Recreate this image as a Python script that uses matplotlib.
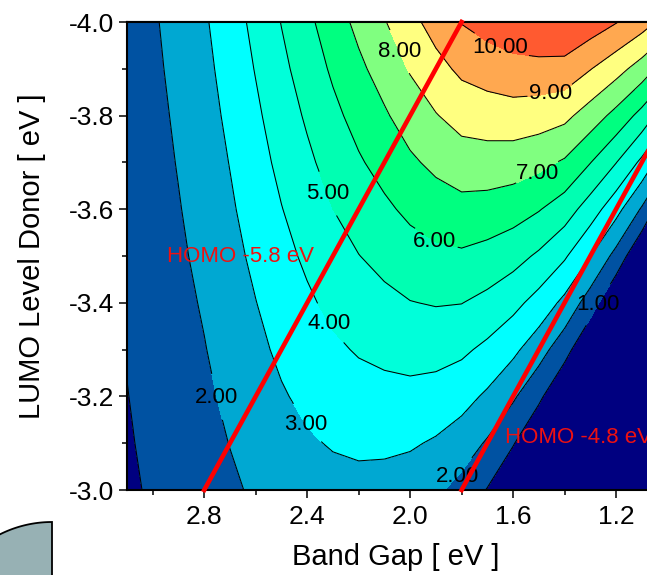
import numpy as np
import matplotlib
matplotlib.use('Agg')
import matplotlib.pyplot as plt
from matplotlib.patches import Polygon
from matplotlib.ticker import MultipleLocator

plt.rcParams['font.family'] = ['Liberation Sans', 'DejaVu Sans']

# ---- data ----
band_gap = [3.1, 3.0, 2.9, 2.8, 2.7, 2.6, 2.5, 2.4, 2.3, 2.2, 2.1,
            2.0, 1.9, 1.8, 1.7, 1.6, 1.5, 1.4, 1.3, 1.2, 1.1, 1.0]
lumo = [-3.0, -3.1, -3.2, -3.3, -3.4, -3.5, -3.6, -3.7, -3.8, -3.9, -4.0]

# efficiency (%) : one row per LUMO value (from -3.0 to -4.0), one column per band gap
eff_m30 = [0.86, 1.10, 1.33, 1.57, 1.85, 2.13, 2.38, 2.56, 2.69, 2.72, 2.65, 2.49, 2.17, 1.67, 0.95, 0.00, 0.00, 0.00, 0.00, 0.00, 0.00, 0.00]
eff_m31 = [0.92, 1.18, 1.44, 1.70, 2.02, 2.34, 2.65, 2.89, 3.07, 3.17, 3.18, 3.11, 2.89, 2.51, 1.89, 1.07, 0.00, 0.00, 0.00, 0.00, 0.00, 0.00]
eff_m32 = [0.98, 1.25, 1.54, 1.83, 2.19, 2.56, 2.91, 3.21, 3.46, 3.63, 3.71, 3.73, 3.62, 3.35, 2.84, 2.14, 1.21, 0.00, 0.00, 0.00, 0.00, 0.00]
eff_m33 = [1.04, 1.33, 1.64, 1.96, 2.36, 2.77, 3.18, 3.53, 3.84, 4.08, 4.23, 4.35, 4.34, 4.18, 3.78, 3.22, 2.42, 1.38, 0.00, 0.00, 0.00, 0.00]
eff_m34 = [1.09, 1.41, 1.74, 2.09, 2.53, 2.98, 3.44, 3.85, 4.23, 4.53, 4.76, 4.97, 5.06, 5.02, 4.73, 4.29, 3.63, 2.75, 1.51, 0.00, 0.00, 0.00]
eff_m35 = [1.15, 1.49, 1.85, 2.23, 2.70, 3.20, 3.71, 4.17, 4.61, 4.98, 5.29, 5.59, 5.78, 5.86, 5.67, 5.36, 4.85, 4.13, 3.02, 1.68, 0.00, 0.00]
eff_m36 = [1.21, 1.57, 1.95, 2.36, 2.87, 3.41, 3.97, 4.49, 5.00, 5.44, 5.82, 6.21, 6.51, 6.69, 6.62, 6.43, 6.06, 5.50, 4.52, 3.35, 1.89, 0.00]
eff_m37 = [1.27, 1.65, 2.05, 2.49, 3.03, 3.62, 4.24, 4.81, 5.38, 5.89, 6.35, 6.84, 7.23, 7.53, 7.56, 7.50, 7.27, 6.88, 6.03, 5.03, 3.78, 2.15]
eff_m38 = [1.33, 1.72, 2.15, 2.62, 3.20, 3.83, 4.50, 5.13, 5.76, 6.34, 6.88, 7.46, 7.95, 8.37, 8.51, 8.58, 8.48, 8.25, 7.54, 6.70, 5.67, 4.30]
eff_m39 = [1.38, 1.80, 2.26, 2.75, 3.37, 4.05, 4.77, 5.45, 6.15, 6.80, 7.41, 8.08, 8.68, 9.20, 9.45, 9.65, 9.69, 9.63, 9.04, 8.38, 7.56, 6.45]
eff_m40 = [1.44, 1.88, 2.36, 2.88, 3.54, 4.26, 5.03, 5.77, 6.53, 7.25, 7.94, 8.70, 9.40, 10.04, 10.40, 10.72, 10.90, 11.00, 10.55, 10.05, 9.45, 8.60]

fill_levels = [0, 1, 2, 3, 4, 5, 6, 7, 8, 9, 10, 12]
line_levels = [1, 2, 3, 4, 5, 6, 7, 8, 9, 10]
fill_colors = ['#000080', '#0052A2', '#00A8D2', '#00FFFF', '#00FFDA', '#00FFB2',
               '#00FF80', '#80FF80', '#FFFF80', '#FFA850', '#FF5A30']

homo_values = [-5.8, -4.8]
homo_labels = ['HOMO -5.8 eV', 'HOMO -4.8 eV']

# ---- figure ----
W, H = 647, 575
fig = plt.figure(figsize=(W / 100, H / 100), dpi=100)
ax = fig.add_axes([127 / W, (H - 490) / H, 540.5 / W, 468 / H])

Z = np.array([eff_m30, eff_m31, eff_m32, eff_m33, eff_m34, eff_m35,
              eff_m36, eff_m37, eff_m38, eff_m39, eff_m40])
X, Y = np.meshgrid(band_gap, lumo)

ax.contourf(X, Y, Z, levels=fill_levels, colors=fill_colors)
cs = ax.contour(X, Y, Z, levels=line_levels, colors='k', linewidths=0.75)

label_pos = [(2.75, -3.199), (2.412, -3.139), (2.272, -3.368), (2.311, -3.635),
             (1.903, -3.532), (1.515, -3.690), (2.027, -3.940), (1.460, -3.865),
             (1.639, -3.957), (1.289, -3.402), (1.864, -3.053)]
texts = ax.clabel(cs, fmt='%.2f', fontsize=16, inline=True, inline_spacing=2,
                  manual=label_pos)
for t in texts:
    t.set_rotation(0)

for hv, lab in zip(homo_values, homo_labels):
    ls = np.array([lumo[0], lumo[-1]])
    ax.plot(ls - hv, ls, color='#FF0000', lw=3.3, solid_capstyle='projecting',
            clip_on=False, zorder=5)

ax.text(2.944, -3.498, homo_labels[0], color='#EE1111', fontsize=16,
        ha='left', va='center', zorder=6)
ax.text(1.631, -3.113, homo_labels[1], color='#EE1111', fontsize=16,
        ha='left', va='center', zorder=6)

ax.set_xlim(3.1, 1.0)
ax.set_ylim(-3.0, -4.0)

ax.xaxis.set_minor_locator(MultipleLocator(0.2))
ax.yaxis.set_minor_locator(MultipleLocator(0.1))
ax.set_xticks([2.8, 2.4, 2.0, 1.6, 1.2])
ax.set_xticklabels(['2.8', '2.4', '2.0', '1.6', '1.2'])
ax.set_yticks([-4.0, -3.8, -3.6, -3.4, -3.2, -3.0])
ax.set_yticklabels(['-4.0', '-3.8', '-3.6', '-3.4', '-3.2', '-3.0'])

ax.tick_params(axis='both', which='major', direction='out', length=6, width=1.1,
               labelsize=19, top=False, right=False)
ax.tick_params(axis='both', which='minor', direction='out', length=3.5, width=1.1,
               top=False, right=False)
ax.tick_params(axis='x', which='major', pad=5)
ax.tick_params(axis='y', which='major', pad=3)

sec = ax.secondary_xaxis('top')
sec.set_xticks([2.8, 2.4, 2.0, 1.6, 1.2])
sec.xaxis.set_minor_locator(MultipleLocator(0.2))
sec.tick_params(axis='x', which='major', direction='in', length=6, width=1.1,
                labeltop=False)
sec.tick_params(axis='x', which='minor', direction='in', length=3.5, width=1.1)
sec.spines['top'].set_linewidth(1.5)

for sp in ax.spines.values():
    sp.set_linewidth(1.5)

ax.set_xlabel('Band Gap [ eV ]', fontsize=21)
ax.set_ylabel('LUMO Level Donor [ eV ]', fontsize=21)
ax.xaxis.set_label_coords(0.497, -0.113)
ax.yaxis.set_label_coords(-0.150, 0.5)

# grey shape in the lower left corner
xs = np.linspace(-5, 52, 40)
ys = 638 - np.sqrt(116 ** 2 - (xs - 52) ** 2)
pts = [(x / W, 1 - y / H) for x, y in zip(xs, ys)]
pts += [(52 / W, 1 - 590 / H), (-5 / W, 1 - 590 / H)]
fig.patches.append(Polygon(pts, closed=True, transform=fig.transFigure,
                           facecolor='#97B1B4', edgecolor='black', lw=1.3))

fig.savefig('out.png', dpi=100)
